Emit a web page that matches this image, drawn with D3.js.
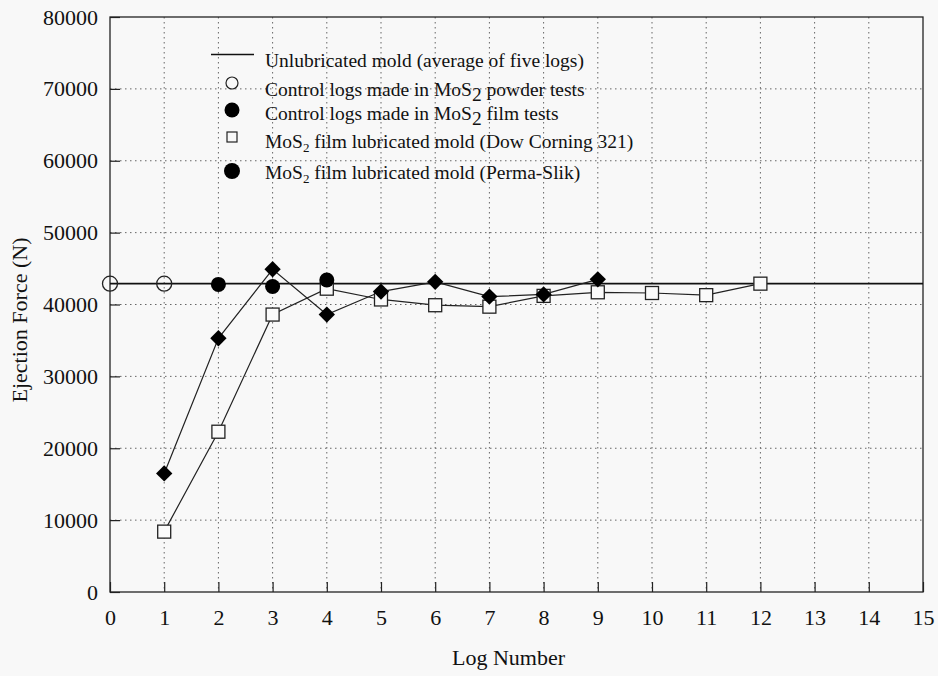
<!DOCTYPE html>
<html>
<head>
<meta charset="utf-8">
<script src="https://cdn.jsdelivr.net/npm/d3@7"></script>
<style>
  body { margin: 0; background: #f8f8f8; }
  svg { display: block; font-family: "Liberation Serif", "DejaVu Serif", serif; }
</style>
</head>
<body>
<svg id="chart" width="938" height="676"></svg>
<script>
// values
const xTicks = d3.range(0, 16);
const yTicks = [0, 10000, 20000, 30000, 40000, 50000, 60000, 70000, 80000];

const unlubAvg = 42900;                       // horizontal reference line
const powderX = [0, 1];
const powderY = [42900, 42900];
const filmCtrlX = [2, 3, 4];
const filmCtrlY = [42800, 42500, 43400];
const dowX = [1, 2, 3, 4, 5, 6, 7, 8, 9, 10, 11, 12];
const dowY = [8400, 22300, 38600, 42200, 40700, 39900, 39700, 41200, 41700, 41600, 41300, 42900];
const slikX = [1, 2, 3, 4, 5, 6, 7, 8, 9];
const slikY = [16500, 35300, 44900, 38600, 41800, 43150, 41100, 41400, 43500];

const pLeft = 110, pRight = 923, pTop = 17, pBottom = 592;
const svg = d3.select('#chart');

const x = d3.scaleLinear().domain([0, 15]).range([pLeft, pRight]);
const y = d3.scaleLinear().domain([0, 80000]).range([pBottom, pTop]);

// dotted grid
const grid = svg.append('g').attr('stroke', '#666').attr('stroke-width', 1).attr('stroke-dasharray', '1.5,3.5');
grid.selectAll('.gx').data(xTicks.slice(1, -1)).join('line')
  .attr('x1', d => x(d)).attr('x2', d => x(d)).attr('y1', pTop).attr('y2', pBottom);
grid.selectAll('.gy').data(yTicks.slice(1, -1)).join('line')
  .attr('x1', pLeft).attr('x2', pRight).attr('y1', d => y(d)).attr('y2', d => y(d));

// axes with inward ticks
const xAxis = d3.axisBottom(x).tickValues(xTicks).tickSizeInner(-10).tickSizeOuter(0).tickPadding(17);
const yAxis = d3.axisLeft(y).tickValues(yTicks).tickSizeInner(-10).tickSizeOuter(0).tickPadding(12).tickFormat(d3.format('d'));
const gx = svg.append('g').attr('transform', `translate(0,${pBottom})`).call(xAxis);
const gy = svg.append('g').attr('transform', `translate(${pLeft},0)`).call(yAxis);
[gx, gy].forEach(g => {
  g.attr('font-size', 22).attr('font-family', '"Liberation Serif", serif');
  g.selectAll('text').attr('fill', '#111');
  g.selectAll('line, path').attr('stroke', '#222').attr('stroke-width', 1.2);
});
gx.select('.domain').remove();
gy.select('.domain').remove();

// frame
svg.append('rect').attr('x', pLeft).attr('y', pTop).attr('width', pRight - pLeft).attr('height', pBottom - pTop)
  .attr('fill', 'none').attr('stroke', '#222').attr('stroke-width', 1.3);

// unlubricated average line
svg.append('line').attr('x1', x(0)).attr('x2', x(15)).attr('y1', y(unlubAvg)).attr('y2', y(unlubAvg))
  .attr('stroke', '#111').attr('stroke-width', 1.8);

const line = d3.line().x(d => x(d[0])).y(d => y(d[1]));
const dowPts = d3.zip(dowX, dowY);
const slikPts = d3.zip(slikX, slikY);

svg.append('path').attr('d', line(dowPts)).attr('fill', 'none').attr('stroke', '#222').attr('stroke-width', 1.2);
svg.append('path').attr('d', line(slikPts)).attr('fill', 'none').attr('stroke', '#222').attr('stroke-width', 1.2);

// markers
svg.selectAll('.pw').data(d3.zip(powderX, powderY)).join('circle')
  .attr('cx', d => x(d[0])).attr('cy', d => y(d[1])).attr('r', 7.5)
  .attr('fill', 'none').attr('stroke', '#222').attr('stroke-width', 1.3);
svg.selectAll('.sq').data(dowPts).join('rect')
  .attr('x', d => x(d[0]) - 6.5).attr('y', d => y(d[1]) - 6.5).attr('width', 13).attr('height', 13)
  .attr('fill', '#fafafa').attr('stroke', '#222').attr('stroke-width', 1.3);
svg.selectAll('.fc').data(d3.zip(filmCtrlX, filmCtrlY)).join('circle')
  .attr('cx', d => x(d[0])).attr('cy', d => y(d[1])).attr('r', 7.5).attr('fill', '#000');
const diamond = d3.symbol().type(d3.symbolDiamond2).size(170);
svg.selectAll('.dm').data(slikPts).join('path')
  .attr('transform', d => `translate(${x(d[0])},${y(d[1])})`).attr('d', diamond).attr('fill', '#000');

// legend
const leg = svg.append('g').attr('font-size', 19.5).attr('fill', '#111');
const sx = 232, tx = 265;
leg.append('line').attr('x1', 211).attr('x2', 254).attr('y1', 54.5).attr('y2', 54.5).attr('stroke', '#111').attr('stroke-width', 1.3);
leg.append('circle').attr('cx', sx).attr('cy', 83).attr('r', 6).attr('fill', 'none').attr('stroke', '#222').attr('stroke-width', 1.2);
leg.append('circle').attr('cx', sx).attr('cy', 110).attr('r', 7.5).attr('fill', '#000');
leg.append('rect').attr('x', sx - 5).attr('y', 132).attr('width', 10).attr('height', 10).attr('fill', 'none').attr('stroke', '#222').attr('stroke-width', 1.2);
leg.append('circle').attr('cx', sx).attr('cy', 171).attr('r', 8).attr('fill', '#000');

const legText = (yy, parts) => {
  const t = leg.append('text').attr('x', tx).attr('y', yy);
  parts.forEach(p => {
    const s = t.append('tspan').text(p[0]);
    if (p[1]) s.attr('baseline-shift', p[1]).attr('font-size', p[2]);
  });
};
legText(67, [['Unlubricated mold (average of five logs)']]);
legText(96, [['Control logs made in MoS'], ['2', '-5', 19.5], [' powder tests']]);
legText(120, [['Control logs made in MoS'], ['2', '-5', 19.5], [' film tests']]);
legText(148, [['MoS'], ['2', '-4', 13], [' film lubricated mold (Dow Corning 321)']]);
legText(179, [['MoS'], ['2', '-4', 13], [' film lubricated mold (Perma-Slik)']]);

// axis titles
svg.append('text').attr('x', (pLeft + pRight) / 2 - 8).attr('y', 665).attr('text-anchor', 'middle')
  .attr('font-size', 22).attr('fill', '#111').text('Log Number');
svg.append('text').attr('transform', `translate(27,320) rotate(-90)`).attr('text-anchor', 'middle')
  .attr('font-size', 22).attr('fill', '#111').text('Ejection Force (N)');
</script>
</body>
</html>
